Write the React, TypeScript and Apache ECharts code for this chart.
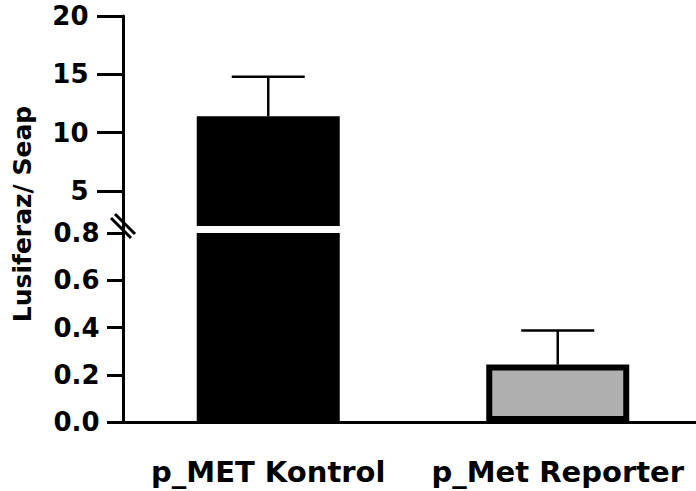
import React, { useEffect, useRef } from 'react';
import * as echarts from 'echarts';

const categories = ['p_MET Kontrol', 'p_Met Reporter'];
const means = [11.4, 0.243];
const upperErrors = [14.8, 0.387];
const upperTickValues = [5, 10, 15, 20];
const upperMin = 2;
const upperMax = 20;
const lowerMin = 0;
const lowerMax = 0.8;
const lowerInterval = 0.2;
const barFills = ['#000000', '#afafaf'];
const yTitle = 'Lusiferaz/ Seap';

const FONT = 'DejaVu Sans';

export default function App() {
  const ref = useRef<HTMLDivElement>(null);

  useEffect(() => {
    if (!ref.current) return;
    const chart = echarts.init(ref.current, undefined, { renderer: 'svg' });

    const lineStyle = { color: '#000', width: 3 };
    const labelStyle = { color: '#000', fontSize: 26, fontWeight: 'bold' as const, fontFamily: FONT };

    const barData = means.map((v, i) => ({
      value: v,
      itemStyle: {
        color: barFills[i],
        borderColor: '#000',
        borderWidth: i === 0 ? 0 : 6,
      },
    }));

    const errData = categories.map((c, i) => [i, means[i], upperErrors[i]]);

    const renderErr = (params: any, api: any) => {
      const x = api.value(0);
      const p0 = api.coord([x, api.value(1)]);
      const p1 = api.coord([x, api.value(2)]);
      const hw = 36.5;
      const st = { stroke: '#000', lineWidth: 2.5 };
      return {
        type: 'group',
        children: [
          { type: 'line', shape: { x1: p0[0], y1: p0[1], x2: p1[0], y2: p1[1] }, style: st },
          { type: 'line', shape: { x1: p1[0] - hw, y1: p1[1], x2: p1[0] + hw, y2: p1[1] }, style: st },
        ],
      };
    };

    chart.setOption({
      animation: false,
      backgroundColor: '#fff',
      grid: [
        { left: 123.5, top: 16, width: 579, height: 210, containLabel: false, outerBoundsMode: 'none' },
        { left: 123.5, top: 233, width: 579, height: 189, containLabel: false, outerBoundsMode: 'none' },
      ],
      xAxis: [
        { gridIndex: 0, type: 'category', data: categories, show: false },
        {
          gridIndex: 1,
          type: 'category',
          data: categories,
          axisLine: { lineStyle },
          axisTick: { alignWithLabel: true, length: 18, lineStyle },
          axisLabel: { ...labelStyle, fontSize: 29, margin: 35, interval: 0, hideOverlap: false },
        },
      ],
      yAxis: [
        {
          gridIndex: 0,
          type: 'value',
          min: upperMin,
          max: upperMax,
          axisLine: { show: true, lineStyle },
          axisTick: { show: true, length: 26.5, lineStyle, customValues: upperTickValues },
          axisLabel: { ...labelStyle, margin: 35, customValues: upperTickValues },
          splitLine: { show: false },
        },
        {
          gridIndex: 1,
          type: 'value',
          min: lowerMin,
          max: lowerMax,
          interval: lowerInterval,
          axisLine: { show: true, lineStyle },
          axisTick: { show: true, length: 16.5, lineStyle },
          axisLabel: { ...labelStyle, margin: 24, formatter: (v: number) => v.toFixed(1) },
          splitLine: { show: false },
        },
      ],
      series: [
        { type: 'custom', xAxisIndex: 0, yAxisIndex: 0, renderItem: renderErr, data: errData, encode: { x: 0, y: [1, 2] }, clip: true, z: 1 },
        { type: 'custom', xAxisIndex: 1, yAxisIndex: 1, renderItem: renderErr, data: errData, encode: { x: 0, y: [1, 2] }, clip: true, z: 1 },
        { type: 'bar', xAxisIndex: 0, yAxisIndex: 0, data: barData, barWidth: 143, clip: true, z: 2 },
        { type: 'bar', xAxisIndex: 1, yAxisIndex: 1, data: barData, barWidth: 143, clip: true, z: 2 },
      ],
      graphic: [
        {
          type: 'text',
          x: 22,
          y: 214,
          rotation: Math.PI / 2,
          style: {
            text: yTitle,
            fill: '#000',
            font: 'bold 25px "DejaVu Sans"',
            textAlign: 'center',
            textVerticalAlign: 'middle',
            align: 'center',
            verticalAlign: 'middle',
          },
        },
        { type: 'line', z: 10, shape: { x1: 123.5, y1: 224, x2: 123.5, y2: 235 }, style: { stroke: '#000', lineWidth: 3 } },
        { type: 'line', z: 10, shape: { x1: 111, y1: 218, x2: 131, y2: 238 }, style: { stroke: '#000', lineWidth: 3 } },
        { type: 'line', z: 10, shape: { x1: 115, y1: 214, x2: 135, y2: 234 }, style: { stroke: '#000', lineWidth: 3 } },
      ],
    });

    return () => chart.dispose();
  }, []);

  return (
    <div
      ref={ref}
      style={{ position: 'fixed', left: 0, top: 0, width: 696, height: 491 }}
    />
  );
}
